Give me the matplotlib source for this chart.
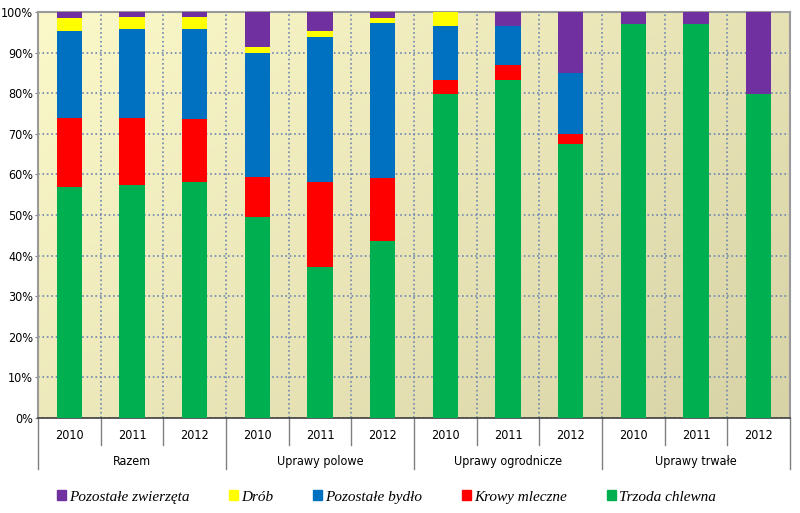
import numpy as np
import matplotlib
matplotlib.use('Agg')
import matplotlib.pyplot as plt
import matplotlib.transforms as mtransforms
from matplotlib.patches import Patch
from matplotlib.colors import LinearSegmentedColormap

grupy = ['Razem', 'Uprawy polowe', 'Uprawy ogrodnicze', 'Uprawy trwałe']
lata = ['2010', '2011', '2012']

# udzialy w % (od dolu stosu)
trzoda = [56.8, 57.3, 58.1, 49.4, 37.1, 43.7, 79.8, 83.3, 67.5, 97.0, 97.0, 79.8]
krowy = [17.2, 16.7, 15.5, 10.0, 21.0, 15.3, 3.5, 3.6, 2.5, 0, 0, 0]
bydlo = [21.2, 21.7, 22.3, 30.6, 35.8, 38.4, 13.3, 9.7, 15.0, 0, 0, 0]
drob = [3.3, 3.1, 2.8, 1.5, 1.5, 1.1, 3.4, 0, 0, 0, 0, 0]
pozostale = [1.5, 1.2, 1.3, 8.5, 4.6, 1.5, 0, 3.4, 15.0, 3.0, 3.0, 20.2]

serie = [
    ('Trzoda chlewna', trzoda, '#00B050'),
    ('Krowy mleczne', krowy, '#FF0000'),
    ('Pozostałe bydło', bydlo, '#0070C0'),
    ('Drób', drob, '#FFFF00'),
    ('Pozostałe zwierzęta', pozostale, '#7030A0'),
]

narrow = dict(family='DejaVu Sans', stretch='condensed', fontsize=9)

fig = plt.figure(figsize=(8, 5.13), dpi=100)
ax = fig.add_axes([0.0475, 0.1852, 0.94, 0.7914])

# tlo z gradientem
cmap = LinearSegmentedColormap.from_list('tlo', ['#FBF8CA', '#D8D3A6'])
gx, gy = np.meshgrid(np.linspace(0, 1, 200), np.linspace(0, 1, 200))
ax.imshow(gx * 0.6 + gy * 0.4, cmap=cmap, extent=[0, 1, 0, 1],
          transform=ax.transAxes, aspect='auto', zorder=0)

x = np.arange(len(trzoda))
dol = np.zeros(len(x))
for nazwa, wart, kolor in serie:
    ax.bar(x, wart, width=0.4, bottom=dol, color=kolor, zorder=3)
    dol += np.array(wart)

ax.set_xlim(-0.5, len(x) - 0.5)
ax.set_ylim(0, 100)
ax.set_yticks(np.arange(0, 101, 10))
ax.set_yticklabels([f'{v}%' for v in range(0, 101, 10)], **narrow)
ax.set_xticks(x)
ax.set_xticklabels(lata * 4, **narrow)
ax.tick_params(axis='x', length=0, pad=8)
ax.tick_params(axis='y', length=2, color='#808080', pad=1.5)

ax.set_xticks(np.arange(0.5, len(x) - 1, 1), minor=True)
ax.tick_params(axis='x', which='minor', length=0)
ax.grid(True, axis='y', linestyle=':', color='#6F86B0', linewidth=1.2, zorder=1)
ax.grid(True, axis='x', which='minor', linestyle=':', color='#6F86B0', linewidth=1.2, zorder=1)

for s in ['left', 'right', 'top']:
    ax.spines[s].set_color('#9A9A9A')
    ax.spines[s].set_linewidth(1.5)
ax.spines['bottom'].set_color('#404040')
ax.spines['bottom'].set_linewidth(1.2)

# dwupoziomowa os X
tr = mtransforms.blended_transform_factory(ax.transData, ax.transAxes)
for i in range(len(x) + 1):
    dlugie = i % 3 == 0
    y_kon = -0.126 if dlugie else -0.066
    ax.plot([i - 0.5, i - 0.5], [0, y_kon], color='#808080', linewidth=1,
            transform=tr, clip_on=False)
for g, nazwa in enumerate(grupy):
    ax.text(g * 3 + 1, -0.106, nazwa, transform=tr, ha='center', va='center', **narrow)

uchwyty = [Patch(color=k, label=n) for n, w, k in serie[::-1]]
fig.legend(handles=uchwyty, loc='center', bbox_to_anchor=(0.483, 0.031), ncol=5,
           frameon=False, handlelength=0.6, handleheight=0.6, handletextpad=0.2,
           columnspacing=2.6, prop={'family': 'Liberation Serif', 'style': 'italic', 'size': 11})

fig.savefig('out.png', dpi=100)
